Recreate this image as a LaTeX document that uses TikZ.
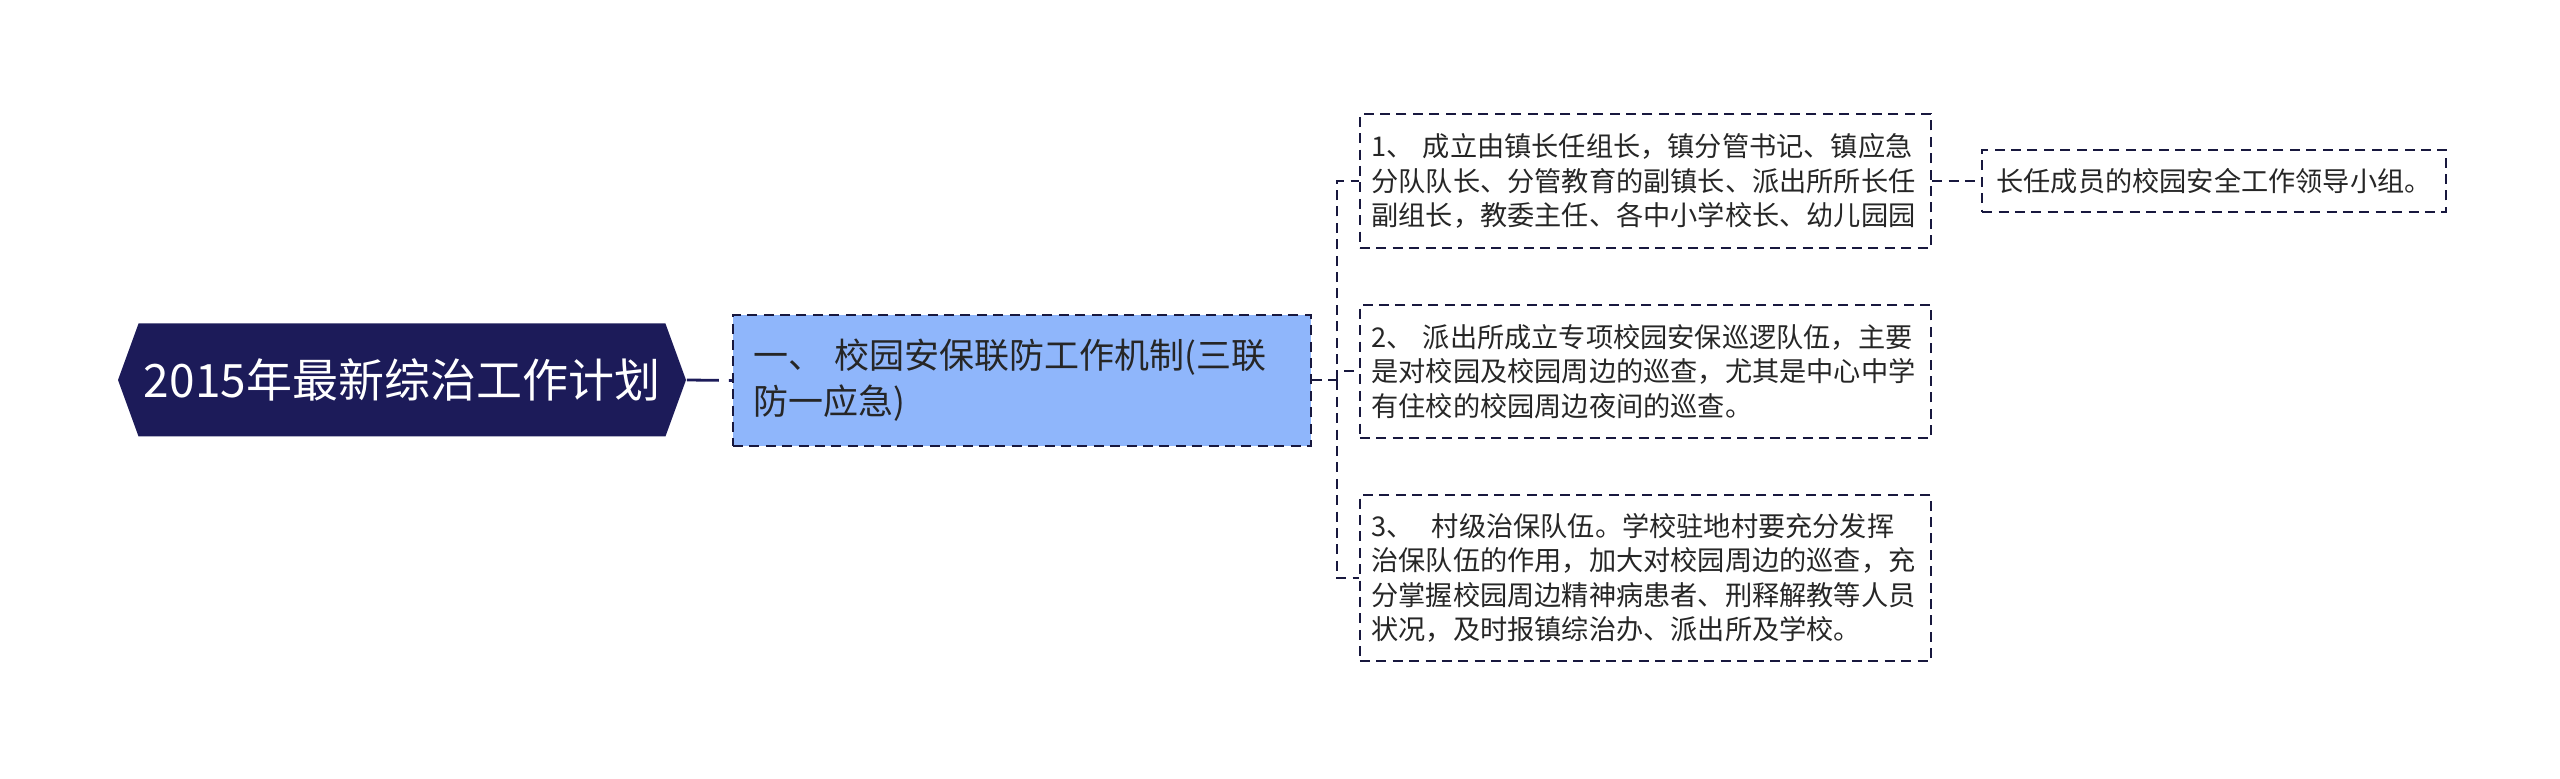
\documentclass[tikz,border=0pt]{standalone}
\usepackage{fontspec}
\setmainfont{Noto Sans CJK SC}
\usepackage{xcolor}
\usepackage{tikz}
\usetikzlibrary{positioning,calc,shapes.symbols}

\definecolor{navy}{RGB}{28,27,89}
\definecolor{inkline}{RGB}{24,24,62}
\definecolor{paleblue}{RGB}{143,182,251}

\begin{document}
\begin{tikzpicture}[
  x=0.25pt, y=-0.25pt,
  boxdash/.style={dash pattern=on 2.5pt off 1.6pt},
  mainbox/.style={shape=signal, signal to=east and west, signal pointer angle=140,
    fill=navy, text=white, font=\fontsize{11.5pt}{14pt}\selectfont,
    minimum width=142pt, minimum height=28.25pt, inner sep=0pt},
  subbox/.style={draw=inkline, boxdash, fill=paleblue, line width=0.5pt, align=left,
    text width=134.5pt, inner xsep=5pt, minimum height=32.75pt,
    font=\fontsize{8.75pt}{11.5pt}\selectfont, text=black!85},
  itembox/.style={draw=inkline, boxdash, line width=0.5pt, align=left,
    text width=137pt, inner xsep=2.9pt,
    font=\fontsize{6.8pt}{8.6pt}\selectfont, text=black!85},
  notebox/.style={draw=inkline, boxdash, line width=0.5pt,
    minimum width=116pt, minimum height=15.5pt, inner sep=0pt,
    font=\fontsize{6.8pt}{8.6pt}\selectfont, text=black!85},
  link/.style={draw=inkline, line width=0.5pt, boxdash}
]
\useasboundingbox (0,0) rectangle (2560,779);

\node[mainbox] (plan) at (402,380) {2015年最新综治工作计划};
\node[subbox] (mech) at (1022,380.5) {一、 校园安保联防工作机制(三联\\防一应急)};

\node[itembox, minimum height=33.5pt] (item1) at (1645.5,181)
  {1、 成立由镇长任组长，镇分管书记、镇应急\\分队队长、分管教育的副镇长、派出所所长任\\副组长，教委主任、各中小学校长、幼儿园园};
\node[itembox, minimum height=33.25pt] (item2) at (1645.5,371.5)
  {2、 派出所成立专项校园安保巡逻队伍，主要\\是对校园及校园周边的巡查，尤其是中心中学\\有住校的校园周边夜间的巡查。};
\node[itembox, minimum height=41.5pt] (item3) at (1645.5,578)
  {3、\ \ 村级治保队伍。学校驻地村要充分发挥\\治保队伍的作用，加大对校园周边的巡查，充\\分掌握校园周边精神病患者、刑释解教等人员\\状况，及时报镇综治办、派出所及学校。};
\node[notebox, right=12.25pt of item1] (group) {长任成员的校园安全工作领导小组。};

\coordinate (fork) at ($(mech.east)+(25,0)$);

\draw[link, draw=navy, line width=0.7pt, dash pattern=on 8pt off 2.5pt] (plan.east) -- (mech.west);
\draw[link] (mech.east) -- (fork);
\draw[link] (fork) |- (item1.west);
\draw[link] (fork) |- (item2.west);
\draw[link] (fork) |- (item3.west);
\draw[link] (item1.east) -- (group.west);
\end{tikzpicture}
\end{document}
